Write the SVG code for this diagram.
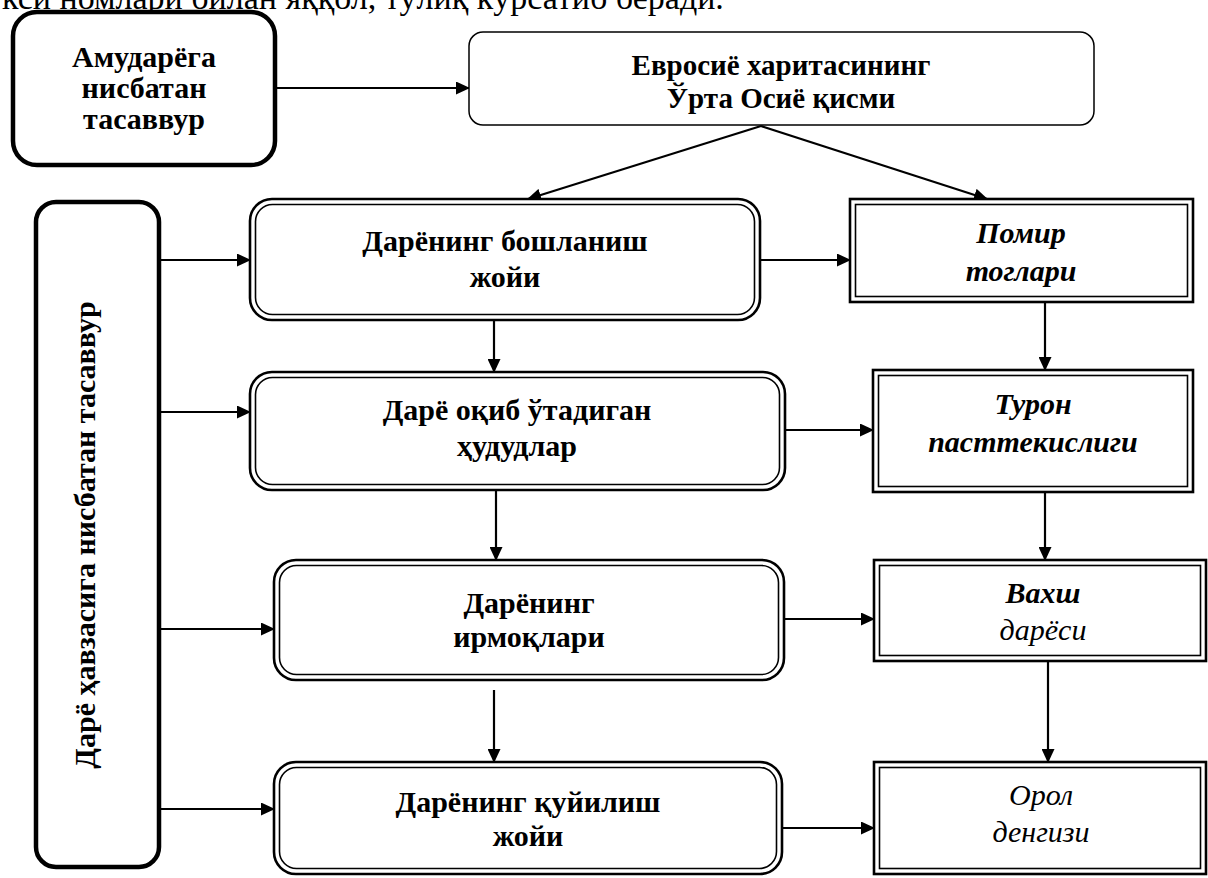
<svg xmlns="http://www.w3.org/2000/svg" width="1208" height="878" viewBox="0 0 1208 878">
<style>
text{font-family:"Liberation Serif","Times New Roman",serif;fill:#000}
.b{font-weight:bold;font-size:30px;text-anchor:middle}
.bi{font-weight:bold;font-style:italic;font-size:30px;text-anchor:middle}
.ri{font-style:italic;font-size:30px;text-anchor:middle}
.thick{fill:#fff;stroke:#000;stroke-width:4.5}
.thin{fill:#fff;stroke:#000;stroke-width:1.5}
.outer{fill:#fff;stroke:#000;stroke-width:2.6}
.inner{fill:none;stroke:#000;stroke-width:1.6}
.c{stroke:#000;stroke-width:2.2;fill:none;marker-end:url(#ah)}
</style>
<defs>
<marker id="ah" markerUnits="userSpaceOnUse" markerWidth="14" markerHeight="13" refX="13" refY="6.5" orient="auto">
<path d="M0,0 L14,6.5 L0,13 z" fill="#000"/>
</marker>
</defs>
<rect width="1208" height="878" fill="#fff"/>
<text x="2" y="9" style="font-size:34px">кси номлари билан яққол, тўлиқ кўрсатиб беради.</text>

<g id="connectors">
<line class="c" x1="277" y1="88" x2="469" y2="88"/>
<line class="c" x1="761" y1="126" x2="528" y2="199"/>
<line class="c" x1="761" y1="126" x2="987" y2="199"/>
<line class="c" x1="161" y1="260" x2="250" y2="260"/>
<line class="c" x1="161" y1="412" x2="250" y2="412"/>
<line class="c" x1="161" y1="629" x2="274" y2="629"/>
<line class="c" x1="161" y1="809" x2="274" y2="809"/>
<line class="c" x1="760" y1="260" x2="850" y2="260"/>
<line class="c" x1="785" y1="430" x2="873" y2="430"/>
<line class="c" x1="784" y1="619" x2="874" y2="619"/>
<line class="c" x1="782" y1="828" x2="874" y2="828"/>
<line class="c" x1="494" y1="320" x2="494" y2="372"/>
<line class="c" x1="496" y1="490" x2="496" y2="560"/>
<line class="c" x1="494" y1="690" x2="494" y2="762"/>
<line class="c" x1="1045" y1="302" x2="1045" y2="370"/>
<line class="c" x1="1045" y1="492" x2="1045" y2="560"/>
<line class="c" x1="1048" y1="661" x2="1048" y2="762"/>
</g>

<g id="nodeA">
<rect class="thick" x="13" y="12" width="262" height="153" rx="24"/>
<text class="b" x="144" y="67">Амударёга</text>
<text class="b" x="144" y="98">нисбатан</text>
<text class="b" x="144" y="129">тасаввур</text>
</g>

<g id="nodeB">
<rect class="thin" x="469" y="32" width="625" height="93" rx="14"/>
<text class="b" x="781" y="75" style="font-size:29px">Евросиё харитасининг</text>
<text class="b" x="781" y="108" style="font-size:29px">Ўрта Осиё қисми</text>
</g>

<g id="nodeE">
<rect class="thick" x="36" y="202" width="123" height="665" rx="20"/>
<text class="b" transform="translate(95,535) rotate(-90)" x="0" y="0">Дарё ҳавзасига нисбатан тасаввур</text>
</g>

<g id="nodeC">
<rect class="outer" x="250" y="199" width="510" height="121" rx="22"/>
<rect class="inner" x="255.5" y="204.5" width="499" height="110" rx="17"/>
<text class="b" x="505" y="251">Дарёнинг бошланиш</text>
<text class="b" x="505" y="287">жойи</text>
</g>

<g id="nodeF">
<rect class="outer" x="250" y="372" width="535" height="118" rx="22"/>
<rect class="inner" x="255.5" y="377.5" width="524" height="107" rx="17"/>
<text class="b" x="517" y="420">Дарё оқиб ўтадиган</text>
<text class="b" x="517" y="456">ҳудудлар</text>
</g>

<g id="nodeG">
<rect class="outer" x="274" y="560" width="510" height="120" rx="22"/>
<rect class="inner" x="279.5" y="565.5" width="499" height="109" rx="17"/>
<text class="b" x="529" y="613">Дарёнинг</text>
<text class="b" x="529" y="647">ирмоқлари</text>
</g>

<g id="nodeH">
<rect class="outer" x="274" y="762" width="508" height="112" rx="22"/>
<rect class="inner" x="279.5" y="767.5" width="497" height="101" rx="17"/>
<text class="b" x="528" y="812">Дарёнинг қуйилиш</text>
<text class="b" x="528" y="846">жойи</text>
</g>

<g id="nodeD">
<rect class="outer" x="850" y="199" width="343" height="103"/>
<rect class="inner" x="855.5" y="204.5" width="332" height="92"/>
<text class="bi" x="1021" y="243">Помир</text>
<text class="bi" x="1021" y="281">тоглари</text>
</g>

<g id="nodeI">
<rect class="outer" x="873" y="370" width="320" height="122"/>
<rect class="inner" x="878.5" y="375.5" width="309" height="111"/>
<text class="bi" x="1033" y="414">Турон</text>
<text class="bi" x="1033" y="452">пасттекислиги</text>
</g>

<g id="nodeJ">
<rect class="outer" x="874" y="560" width="332" height="101"/>
<rect class="inner" x="879.5" y="565.5" width="321" height="90"/>
<text class="bi" x="1043" y="603">Вахш</text>
<text class="ri" x="1043" y="640">дарёси</text>
</g>

<g id="nodeK">
<rect class="outer" x="874" y="762" width="332" height="112"/>
<rect class="inner" x="879.5" y="767.5" width="321" height="101"/>
<text class="ri" x="1041" y="805">Орол</text>
<text class="ri" x="1041" y="842">денгизи</text>
</g>
</svg>
